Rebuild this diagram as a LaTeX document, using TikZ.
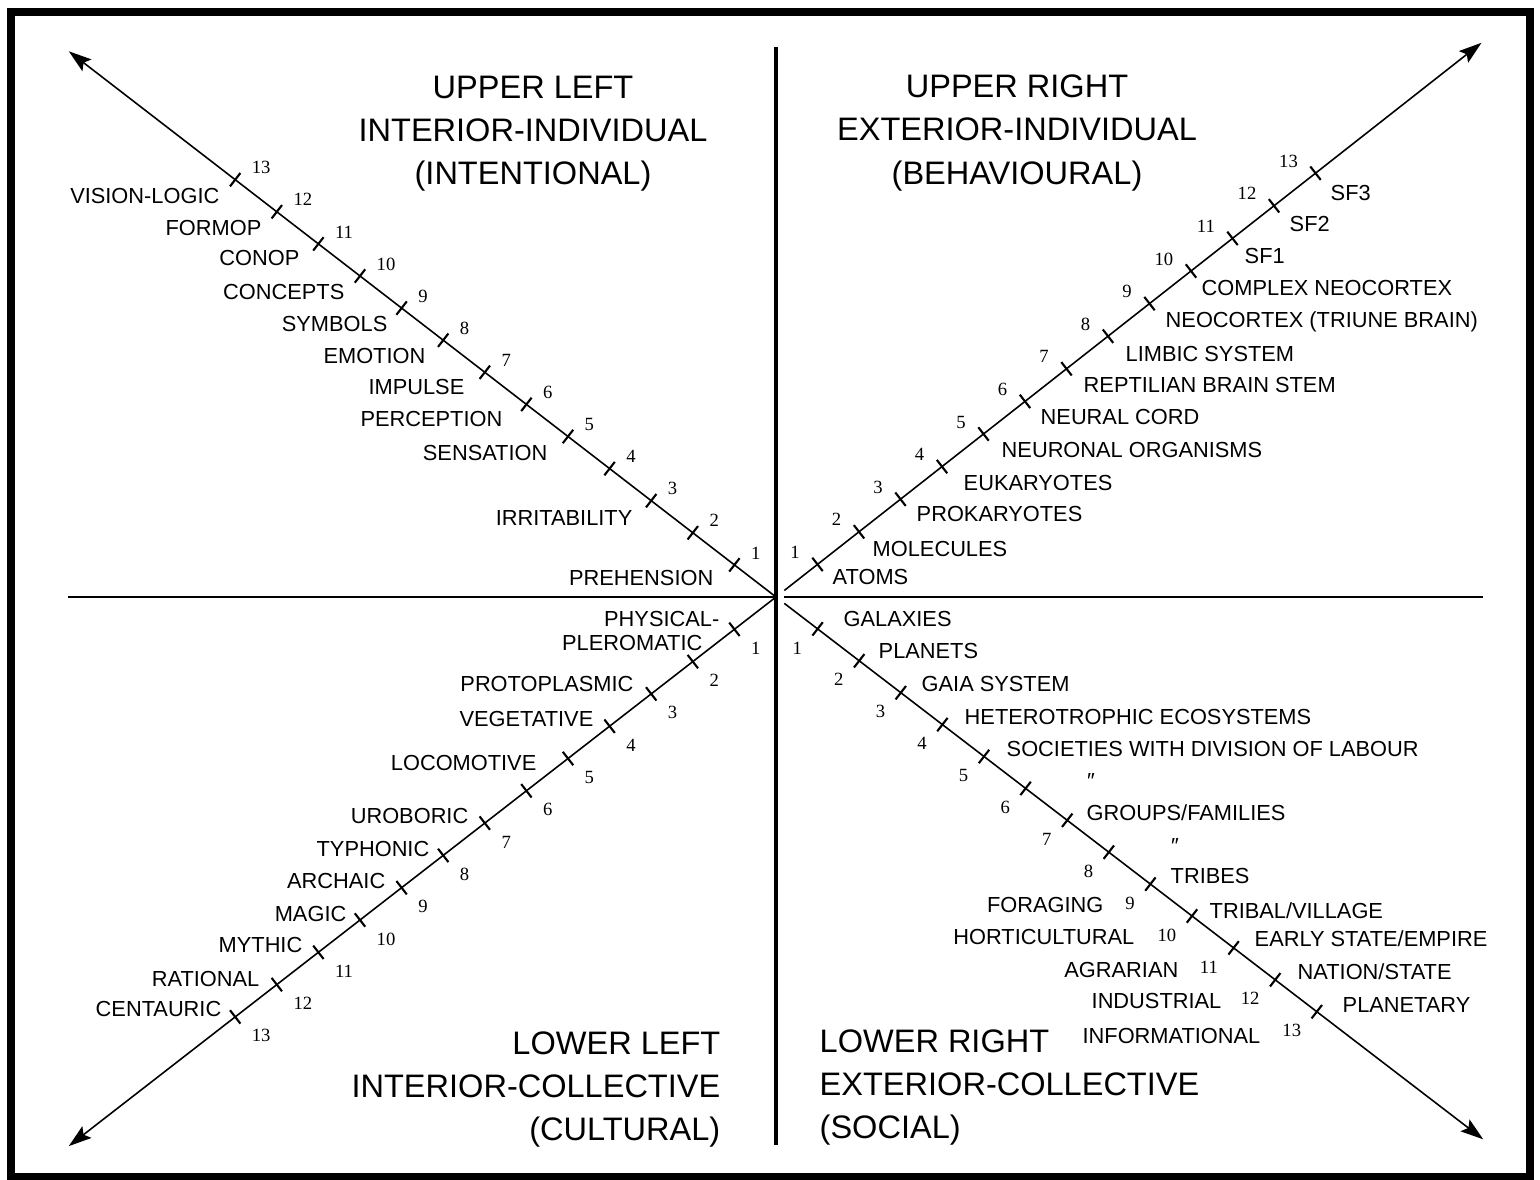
\documentclass[tikz,border=0pt]{standalone}
\usepackage{fontspec}
\setmainfont{Liberation Sans}
\newfontfamily\numfont{Liberation Serif}
\usetikzlibrary{arrows.meta,calc}

\begin{document}
\begin{tikzpicture}[x=0.01cm,y=-0.01cm,
    axis/.style={line width=0.45pt,-{Stealth[length=6.5pt,width=4.2pt,inset=1.2pt]}},
    tick/.style={line width=0.6pt},
    num/.style={inner sep=0pt,font=\numfont\fontsize{5.3}{6}\selectfont},
    lbl/.style={inner sep=0pt,font=\fontsize{6.2}{7.5}\selectfont},
    ttl/.style={inner sep=0pt,font=\fontsize{9.25}{12}\selectfont}]
  \useasboundingbox (0,0) rectangle (1540,1180);
  \draw[line width=2.2pt] (11,12) rectangle (1530,1177);

  % centre and quadrant lines
  \coordinate (c) at (776,597);
  \coordinate (c r) at (784,597);
  \coordinate (top) at (776,47);
  \coordinate (bot) at (776,1145);
  \coordinate (lft) at (68,597);
  \coordinate (rgt) at (1483,597);
  \draw[line width=0.9pt] (top) -- (bot);
  \draw[line width=0.5pt] (lft) -- (c);
  \draw[line width=0.7pt] (c r) -- (rgt);

  % the four diagonals
  \coordinate (ul end) at ($(c)+17*(-41.6,-32.1)$);
  \coordinate (ur start) at ($(c)+0.2*(41.5,-32.6)$);
  \coordinate (ur end) at ($(c)+17*(41.5,-32.6)$);
  \coordinate (ll end) at ($(c)+17*(-41.6,32.3)$);
  \coordinate (lr start) at ($(c)+0.2*(41.6,31.9)$);
  \coordinate (lr end) at ($(c)+17*(41.6,31.9)$);
  \draw[axis] (c) -- (ul end);
  \draw[axis] (ur start) -- (ur end);
  \draw[axis] (c) -- (ll end);
  \draw[axis] (lr start) -- (lr end);

  % ticks and numbers
  \foreach \k in {1,...,13}{
    \coordinate (ul\k) at ($(c)+\k*(-41.6,-32.1)$);
    \draw[tick] ($(ul\k)+(5.2,-6.7)$) -- ($(ul\k)-(5.2,-6.7)$);
    \node[num,anchor=west] (ul n\k) at ($(ul\k)+(16,-12)$) {\k};
    \coordinate (ur\k) at ($(c)+\k*(41.5,-32.6)$);
    \draw[tick] ($(ur\k)+(5.2,6.7)$) -- ($(ur\k)-(5.2,6.7)$);
    \node[num,anchor=east] (ur n\k) at ($(ur\k)+(-17,-12)$) {\k};
    \coordinate (ll\k) at ($(c)+\k*(-41.6,32.3)$);
    \draw[tick] ($(ll\k)+(5.2,6.7)$) -- ($(ll\k)-(5.2,6.7)$);
    \node[num,anchor=west] (ll n\k) at ($(ll\k)+(16,19)$) {\k};
    \coordinate (lr\k) at ($(c)+\k*(41.6,31.9)$);
    \draw[tick] ($(lr\k)+(5.2,-6.7)$) -- ($(lr\k)-(5.2,-6.7)$);
    \node[num,anchor=east] (lr n\k) at ($(lr\k)+(-15,19)$) {\k};
  }

  % titles
  \node[ttl,anchor=base] (ul t1) at (533,99) {UPPER LEFT};
  \node[ttl,anchor=base] (ul t2) at (533,142) {INTERIOR-INDIVIDUAL};
  \node[ttl,anchor=base] (ul t3) at (533,185) {(INTENTIONAL)};
  \node[ttl,anchor=base] (ur t1) at (1017,98) {UPPER RIGHT};
  \node[ttl,anchor=base] (ur t2) at (1017,141) {EXTERIOR-INDIVIDUAL};
  \node[ttl,anchor=base] (ur t3) at (1017,185) {(BEHAVIOURAL)};
  \node[ttl,anchor=base east] (ll t1) at (721,1054) {LOWER LEFT};
  \node[ttl,anchor=base east] (ll t2) at (721,1097) {INTERIOR-COLLECTIVE};
  \node[ttl,anchor=base east] (ll t3) at (721,1140) {(CULTURAL)};
  \node[ttl,anchor=base west] (lr t1) at (819,1052) {LOWER RIGHT};
  \node[ttl,anchor=base west] (lr t2) at (819,1095) {EXTERIOR-COLLECTIVE};
  \node[ttl,anchor=base west] (lr t3) at (819,1138) {(SOCIAL)};

  % upper left
  \node[lbl,anchor=base east] (vision) at (220,204) {VISION-LOGIC};
  \node[lbl,anchor=base east] (formop) at (262,236) {FORMOP};
  \node[lbl,anchor=base east] (conop) at (300,266) {CONOP};
  \node[lbl,anchor=base east] (concepts) at (345,300) {CONCEPTS};
  \node[lbl,anchor=base east] (symbols) at (388,332) {SYMBOLS};
  \node[lbl,anchor=base east] (emotion) at (426,364) {EMOTION};
  \node[lbl,anchor=base east] (impulse) at (465,395) {IMPULSE};
  \node[lbl,anchor=base east] (perception) at (503,427) {PERCEPTION};
  \node[lbl,anchor=base east] (sensation) at (548,461) {SENSATION};
  \node[lbl,anchor=base east] (irritability) at (633,526) {IRRITABILITY};
  \node[lbl,anchor=base east] (prehension) at (714,586) {PREHENSION};

  % upper right
  \node[lbl,anchor=base west] (sf3) at (1330,201) {SF3};
  \node[lbl,anchor=base west] (sf2) at (1289,232) {SF2};
  \node[lbl,anchor=base west] (sf1) at (1244,264) {SF1};
  \node[lbl,anchor=base west] (complex) at (1201,296) {COMPLEX NEOCORTEX};
  \node[lbl,anchor=base west] (neocortex) at (1165,328) {NEOCORTEX (TRIUNE BRAIN)};
  \node[lbl,anchor=base west] (limbic) at (1125,362) {LIMBIC SYSTEM};
  \node[lbl,anchor=base west] (reptilian) at (1083,393) {REPTILIAN BRAIN STEM};
  \node[lbl,anchor=base west] (neural) at (1040,425) {NEURAL CORD};
  \node[lbl,anchor=base west] (neuronal) at (1001,458) {NEURONAL ORGANISMS};
  \node[lbl,anchor=base west] (eukaryotes) at (963,491) {EUKARYOTES};
  \node[lbl,anchor=base west] (prokaryotes) at (916,522) {PROKARYOTES};
  \node[lbl,anchor=base west] (molecules) at (872,557) {MOLECULES};
  \node[lbl,anchor=base west] (atoms) at (832,585) {ATOMS};

  % lower left
  \node[lbl,anchor=base east] (physical) at (720,627) {PHYSICAL-};
  \node[lbl,anchor=base east] (pleromatic) at (703,651) {PLEROMATIC};
  \node[lbl,anchor=base east] (protoplasmic) at (634,692) {PROTOPLASMIC};
  \node[lbl,anchor=base east] (vegetative) at (594,726) {VEGETATIVE};
  \node[lbl,anchor=base east] (locomotive) at (537,771) {LOCOMOTIVE};
  \node[lbl,anchor=base east] (uroboric) at (469,823) {UROBORIC};
  \node[lbl,anchor=base east] (typhonic) at (430,856) {TYPHONIC};
  \node[lbl,anchor=base east] (archaic) at (386,888) {ARCHAIC};
  \node[lbl,anchor=base east] (magic) at (347,921) {MAGIC};
  \node[lbl,anchor=base east] (mythic) at (303,952) {MYTHIC};
  \node[lbl,anchor=base east] (rational) at (260,986) {RATIONAL};
  \node[lbl,anchor=base east] (centauric) at (222,1016) {CENTAURIC};

  % lower right
  \node[lbl,anchor=base west] (galaxies) at (843,627) {GALAXIES};
  \node[lbl,anchor=base west] (planets) at (878,659) {PLANETS};
  \node[lbl,anchor=base west] (gaia) at (921,692) {GAIA SYSTEM};
  \node[lbl,anchor=base west] (hetero) at (964,725) {HETEROTROPHIC ECOSYSTEMS};
  \node[lbl,anchor=base west] (societies) at (1006,757) {SOCIETIES WITH DIVISION OF LABOUR};
  \node[lbl] (ditto1) at (1091,781) {\symbol{"2033}};
  \node[lbl,anchor=base west] (groups) at (1086,820) {GROUPS/FAMILIES};
  \node[lbl] (ditto2) at (1175,846) {\symbol{"2033}};
  \node[lbl,anchor=base west] (tribes) at (1170,883) {TRIBES};
  \node[lbl,anchor=base west] (tribal) at (1209,918) {TRIBAL/VILLAGE};
  \node[lbl,anchor=base west] (early) at (1254,946) {EARLY STATE/EMPIRE};
  \node[lbl,anchor=base west] (nation) at (1297,979) {NATION/STATE};
  \node[lbl,anchor=base west] (planetary) at (1342,1012) {PLANETARY};
  \node[lbl,anchor=base east] (foraging) at (1104,912) {FORAGING};
  \node[lbl,anchor=base east] (horticultural) at (1135,944) {HORTICULTURAL};
  \node[lbl,anchor=base east] (agrarian) at (1179,977) {AGRARIAN};
  \node[lbl,anchor=base east] (industrial) at (1222,1008) {INDUSTRIAL};
  \node[lbl,anchor=base east] (informational) at (1261,1043) {INFORMATIONAL};
\end{tikzpicture}
\end{document}
